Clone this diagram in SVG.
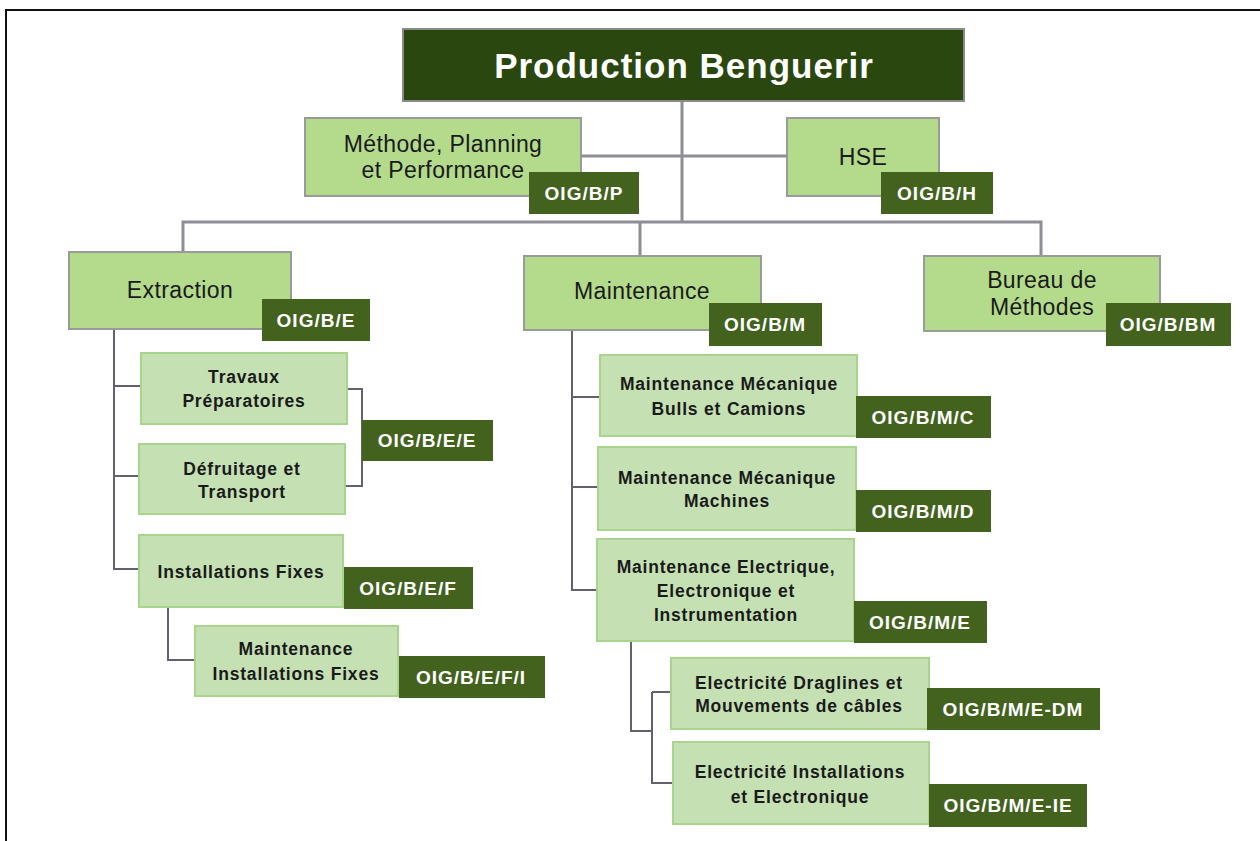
<svg xmlns="http://www.w3.org/2000/svg" width="1260" height="841" viewBox="0 0 1260 841">
<style>
.bg{fill:#ffffff}
.frame{fill:none;stroke:#111;stroke-width:2}
.conn1{fill:none;stroke:#8e8e96;stroke-width:3}
.conn2{fill:none;stroke:#62626e;stroke-width:2}
.root{fill:#2a4710;stroke:#8a8a8a;stroke-width:2}
.l1{fill:#b4db8b;stroke:#9a9a9a;stroke-width:2}
.l2{fill:#c5e1b3;stroke:#a9d48b;stroke-width:2}
.tag{fill:#42621e}
.rt{font-family:"Liberation Sans",Arial,sans-serif;font-weight:bold;font-size:35px;letter-spacing:1px;fill:#ffffff;text-anchor:middle}
.t1{font-family:"Liberation Sans",Arial,sans-serif;font-size:23px;letter-spacing:0.4px;fill:#1a1a1a;text-anchor:middle}
.t2{font-family:"Liberation Sans",Arial,sans-serif;font-weight:bold;font-size:17.5px;letter-spacing:0.8px;fill:#1a1a1a;text-anchor:middle}
.tt{font-family:"Liberation Sans",Arial,sans-serif;font-weight:bold;font-size:19px;letter-spacing:1px;fill:#ffffff;text-anchor:middle}
</style>
<rect class="bg" x="0" y="0" width="1260" height="841"/>
<rect class="frame" x="6" y="10" width="1300" height="900"/>
<g id="connectors">
<path class="conn1" d="M682,101 V222 M183,252 V222 H1041 V256 M640,222 V256 M581,156 H787"/>
<path class="conn2" d="M114,329 V569 H139 M114,386 H141 M114,476 H139"/>
<path class="conn2" d="M347,389 H362 V486 H345"/>
<path class="conn2" d="M168,607 V660 H195"/>
<path class="conn2" d="M572,330 V590 H597 M572,397 H600 M572,487 H598"/>
<path class="conn2" d="M631,641 V731 H652 M652,692 V783 H673 M652,692 H671"/>
</g>
<g id="root">
<rect class="root" x="403" y="29" width="561" height="72"/>
<text class="rt" x="684" y="78">Production Benguerir</text>
</g>
<g id="methode">
<rect class="l1" x="305" y="118" width="276" height="78"/>
<text class="t1" x="443" y="152">Méthode, Planning</text>
<text class="t1" x="443" y="178">et Performance</text>
<rect class="tag" x="529" y="172" width="110" height="42"/>
<text class="tt" x="584" y="200">OIG/B/P</text>
</g>
<g id="hse">
<rect class="l1" x="787" y="118" width="152" height="78"/>
<text class="t1" x="863" y="165">HSE</text>
<rect class="tag" x="881" y="172" width="112" height="42"/>
<text class="tt" x="937" y="200">OIG/B/H</text>
</g>
<g id="extraction">
<rect class="l1" x="69" y="252" width="222" height="77"/>
<text class="t1" x="180" y="298">Extraction</text>
<rect class="tag" x="262" y="299" width="108" height="42"/>
<text class="tt" x="316" y="327">OIG/B/E</text>
</g>
<g id="maintenance">
<rect class="l1" x="524" y="256" width="237" height="74"/>
<text class="t1" x="642" y="299">Maintenance</text>
<rect class="tag" x="709" y="303" width="113" height="43"/>
<text class="tt" x="765" y="331">OIG/B/M</text>
</g>
<g id="bureau">
<rect class="l1" x="924" y="256" width="236" height="75"/>
<text class="t1" x="1042" y="288">Bureau de</text>
<text class="t1" x="1042" y="315">Méthodes</text>
<rect class="tag" x="1106" y="303" width="125" height="43"/>
<text class="tt" x="1168" y="331">OIG/B/BM</text>
</g>
<g id="travaux">
<rect class="l2" x="141" y="353" width="206" height="71"/>
<text class="t2" x="244" y="383">Travaux</text>
<text class="t2" x="244" y="407">Préparatoires</text>
</g>
<g id="defruitage">
<rect class="l2" x="139" y="444" width="206" height="70"/>
<text class="t2" x="242" y="475">Défruitage et</text>
<text class="t2" x="242" y="498">Transport</text>
</g>
<g id="tag-oig-b-e-e">
<rect class="tag" x="362" y="420" width="131" height="41"/>
<text class="tt" x="427" y="447">OIG/B/E/E</text>
</g>
<g id="installations">
<rect class="l2" x="139" y="535" width="204" height="72"/>
<text class="t2" x="241" y="578">Installations Fixes</text>
<rect class="tag" x="344" y="567" width="129" height="42"/>
<text class="tt" x="408" y="595">OIG/B/E/F</text>
</g>
<g id="maint-install">
<rect class="l2" x="195" y="626" width="203" height="70"/>
<text class="t2" x="296" y="655">Maintenance</text>
<text class="t2" x="296" y="680">Installations Fixes</text>
<rect class="tag" x="399" y="656" width="146" height="42"/>
<text class="tt" x="471" y="684">OIG/B/E/F/I</text>
</g>
<g id="mmbc">
<rect class="l2" x="600" y="355" width="257" height="81"/>
<text class="t2" x="729" y="390">Maintenance Mécanique</text>
<text class="t2" x="729" y="415">Bulls et Camions</text>
<rect class="tag" x="856" y="396" width="135" height="42"/>
<text class="tt" x="923" y="424">OIG/B/M/C</text>
</g>
<g id="mmm">
<rect class="l2" x="598" y="447" width="258" height="83"/>
<text class="t2" x="727" y="484">Maintenance Mécanique</text>
<text class="t2" x="727" y="507">Machines</text>
<rect class="tag" x="856" y="490" width="135" height="42"/>
<text class="tt" x="923" y="518">OIG/B/M/D</text>
</g>
<g id="meei">
<rect class="l2" x="597" y="539" width="257" height="102"/>
<text class="t2" x="726" y="573">Maintenance Electrique,</text>
<text class="t2" x="726" y="597">Electronique et</text>
<text class="t2" x="726" y="621">Instrumentation</text>
<rect class="tag" x="854" y="601" width="133" height="42"/>
<text class="tt" x="920" y="629">OIG/B/M/E</text>
</g>
<g id="edm">
<rect class="l2" x="671" y="658" width="258" height="71"/>
<text class="t2" x="799" y="689">Electricité Draglines et</text>
<text class="t2" x="799" y="712">Mouvements de câbles</text>
<rect class="tag" x="927" y="688" width="173" height="42"/>
<text class="tt" x="1013" y="716">OIG/B/M/E-DM</text>
</g>
<g id="eie">
<rect class="l2" x="673" y="742" width="256" height="82"/>
<text class="t2" x="800" y="778">Electricité Installations</text>
<text class="t2" x="800" y="803">et Electronique</text>
<rect class="tag" x="929" y="784" width="158" height="43"/>
<text class="tt" x="1008" y="812">OIG/B/M/E-IE</text>
</g>
</svg>
